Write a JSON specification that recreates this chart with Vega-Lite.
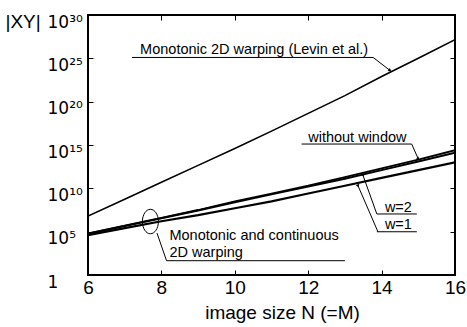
{
  "$schema": "https://vega.github.io/schema/vega-lite/v6.json",
  "width": 367,
  "height": 260,
  "autosize": {"type": "none"},
  "padding": {"left": 88, "top": 15, "right": 12, "bottom": 52},
  "background": "white",
  "config": {
    "font": "Liberation Sans",
    "view": {"stroke": "black", "strokeWidth": 2},
    "axis": {
      "domain": false,
      "grid": false,
      "ticks": true,
      "tickColor": "black",
      "tickSize": -5,
      "tickWidth": 1,
      "labelColor": "black",
      "labelFont": "Liberation Sans",
      "labelFontSize": 19,
      "labelOverlap": false,
      "labelFlush": false,
      "labelBound": false,
      "titleColor": "black",
      "titleFont": "Liberation Sans",
      "titleFontWeight": "normal",
      "titleFontSize": 19
    }
  },
  "datasets": {
    "curves": [
      {"N": 6, "v": 6.31e6, "s": "levin"},
      {"N": 7, "v": 5.62e8, "s": "levin"},
      {"N": 8, "v": 5.01e10, "s": "levin"},
      {"N": 9, "v": 4.47e12, "s": "levin"},
      {"N": 10, "v": 3.98e14, "s": "levin"},
      {"N": 11, "v": 3.98e16, "s": "levin"},
      {"N": 12, "v": 4.47e18, "s": "levin"},
      {"N": 13, "v": 5.01e20, "s": "levin"},
      {"N": 14, "v": 7.94e22, "s": "levin"},
      {"N": 15, "v": 1.0e25, "s": "levin"},
      {"N": 16, "v": 1.41e27, "s": "levin"},
      {"N": 6, "v": 6.31e4, "s": "nowin"},
      {"N": 7, "v": 5.01e5, "s": "nowin"},
      {"N": 8, "v": 3.98e6, "s": "nowin"},
      {"N": 9, "v": 3.16e7, "s": "nowin"},
      {"N": 10, "v": 3.16e8, "s": "nowin"},
      {"N": 11, "v": 2.51e9, "s": "nowin"},
      {"N": 12, "v": 2.0e10, "s": "nowin"},
      {"N": 13, "v": 2.0e11, "s": "nowin"},
      {"N": 14, "v": 2.0e12, "s": "nowin"},
      {"N": 15, "v": 2.0e13, "s": "nowin"},
      {"N": 16, "v": 2.51e14, "s": "nowin"},
      {"N": 6, "v": 5.62e4, "s": "w2"},
      {"N": 7, "v": 4.47e5, "s": "w2"},
      {"N": 8, "v": 3.55e6, "s": "w2"},
      {"N": 9, "v": 2.82e7, "s": "w2"},
      {"N": 10, "v": 2.51e8, "s": "w2"},
      {"N": 11, "v": 2.0e9, "s": "w2"},
      {"N": 12, "v": 1.58e10, "s": "w2"},
      {"N": 13, "v": 1.26e11, "s": "w2"},
      {"N": 14, "v": 1.26e12, "s": "w2"},
      {"N": 15, "v": 1.26e13, "s": "w2"},
      {"N": 16, "v": 1.26e14, "s": "w2"},
      {"N": 6, "v": 3.98e4, "s": "w1"},
      {"N": 7, "v": 2.51e5, "s": "w1"},
      {"N": 8, "v": 1.58e6, "s": "w1"},
      {"N": 9, "v": 7.94e6, "s": "w1"},
      {"N": 10, "v": 5.01e7, "s": "w1"},
      {"N": 11, "v": 3.16e8, "s": "w1"},
      {"N": 12, "v": 2.51e9, "s": "w1"},
      {"N": 13, "v": 2.0e10, "s": "w1"},
      {"N": 14, "v": 1.58e11, "s": "w1"},
      {"N": 15, "v": 1.26e12, "s": "w1"},
      {"N": 16, "v": 1.0e13, "s": "w1"}
    ],
    "segs": [
      {"x": 7.2, "y": 1.26e25, "x2": 13.77, "y2": 1.26e25},
      {"x": 13.77, "y": 1.26e25, "x2": 14.23, "y2": 3.98e23},
      {"x": 11.82, "y": 1.29e15, "x2": 14.82, "y2": 1.29e15},
      {"x": 14.82, "y": 1.29e15, "x2": 15.0, "y2": 2.4e13},
      {"x": 13.87, "y": 1.1e7, "x2": 14.96, "y2": 1.1e7},
      {"x": 13.87, "y": 1.1e7, "x2": 13.49, "y2": 3.39e11},
      {"x": 13.87, "y": 9.77e4, "x2": 14.96, "y2": 9.77e4},
      {"x": 13.9, "y": 9.77e4, "x2": 13.36, "y2": 1.86e10},
      {"x": 8.14, "y": 44.7, "x2": 13.0, "y2": 44.7},
      {"x": 7.88, "y": 6.92e4, "x2": 8.14, "y2": 44.7}
    ],
    "arrows": [
      {"x": 14.23, "y": 3.98e23, "d": "levin"},
      {"x": 15.0, "y": 2.4e13, "d": "nowin"},
      {"x": 13.49, "y": 3.39e11, "d": "w2"},
      {"x": 13.36, "y": 1.86e10, "d": "w1"}
    ],
    "notes": [
      {"x": 7.42, "y": 3.16e25, "t": "Monotonic 2D warping (Levin et al.)"},
      {"x": 12.0, "y": 2.34e15, "t": "without window"},
      {"x": 14.09, "y": 2.0e7, "t": "w=2"},
      {"x": 14.09, "y": 1.86e5, "t": "w=1"},
      {"x": 8.22, "y": 1.1e4, "t": "Monotonic and continuous"},
      {"x": 8.22, "y": 129, "t": "2D warping"}
    ],
    "rings": [
      {"x": 7.7, "y": 1.48e6}
    ]
  },
  "layer": [
    {
      "data": {"name": "curves"},
      "mark": {"type": "line", "color": "black", "clip": true},
      "encoding": {
        "x": {
          "field": "N", "type": "quantitative",
          "scale": {"domain": [6, 16], "nice": false, "zero": false},
          "axis": {
            "orient": "bottom",
            "values": [6, 8, 10, 12, 14, 16],
            "labelPadding": 8,
            "title": "image size N (=M)",
            "titleX": 194,
            "titleY": 43,
            "titleBaseline": "alphabetic"
          }
        },
        "y": {
          "field": "v", "type": "quantitative",
          "scale": {"type": "log", "domain": [1, 1e30], "nice": false},
          "axis": {
            "orient": "left",
            "values": [1, 1e5, 1e10, 1e15, 1e20, 1e25, 1e30],
            "labelFont": "DejaVu Sans",
            "labelFontSize": 17,
            "labelAlign": "left",
            "labelBaseline": "alphabetic",
            "labelOffset": 12,
            "labelPadding": 46,
            "labelExpr": "datum.value < 10 ? '\u20071' : datum.value < 1e6 ? '10⁵' : datum.value < 1e11 ? '10¹⁰' : datum.value < 1e16 ? '10¹⁵' : datum.value < 1e21 ? '10²⁰' : datum.value < 1e26 ? '10²⁵' : '10³⁰'",
            "title": "|XY|",
            "titleAngle": 0,
            "titleAlign": "left",
            "titleBaseline": "alphabetic",
            "titleX": -83,
            "titleY": 12
          }
        },
        "detail": {"field": "s"},
        "strokeWidth": {
          "field": "s", "type": "nominal",
          "scale": {"domain": ["levin", "nowin", "w2", "w1"], "range": [1.6, 2.2, 1.6, 1.3]},
          "legend": null
        }
      }
    },
    {
      "data": {"name": "segs"},
      "mark": {"type": "rule", "color": "black", "strokeWidth": 1},
      "encoding": {
        "x": {
          "field": "x", "type": "quantitative",
          "scale": {"domain": [6, 16], "nice": false, "zero": false},
          "axis": {"orient": "top", "values": [6, 8, 10, 12, 14, 16], "labels": false, "title": null}
        },
        "y": {
          "field": "y", "type": "quantitative",
          "scale": {"type": "log", "domain": [1, 1e30], "nice": false},
          "axis": {"orient": "right", "values": [1, 1e5, 1e10, 1e15, 1e20, 1e25, 1e30], "labels": false, "title": null}
        },
        "x2": {"field": "x2"},
        "y2": {"field": "y2"}
      }
    },
    {
      "data": {"name": "arrows"},
      "mark": {"type": "point", "shape": "triangle-up", "size": 14, "filled": true, "color": "black", "opacity": 1},
      "encoding": {
        "x": {"field": "x", "type": "quantitative", "axis": null},
        "y": {"field": "y", "type": "quantitative", "axis": null},
        "angle": {
          "field": "d", "type": "nominal",
          "scale": {"domain": ["levin", "nowin", "w2", "w1"], "range": [127, 157, 340, 336]},
          "legend": null
        }
      }
    },
    {
      "data": {"name": "notes"},
      "mark": {"type": "text", "align": "left", "baseline": "alphabetic", "fontSize": 14.5, "font": "Liberation Sans", "color": "black"},
      "encoding": {
        "x": {"field": "x", "type": "quantitative", "axis": null},
        "y": {"field": "y", "type": "quantitative", "axis": null},
        "text": {"field": "t"}
      }
    },
    {
      "data": {"name": "rings"},
      "mark": {"type": "point", "shape": "M0,-1.53A1,1.53 0 1,1 0,1.53A1,1.53 0 1,1 0,-1.53Z", "size": 256, "filled": false, "stroke": "black", "strokeWidth": 1, "opacity": 1},
      "encoding": {
        "x": {"field": "x", "type": "quantitative", "axis": null},
        "y": {"field": "y", "type": "quantitative", "axis": null}
      }
    }
  ],
  "resolve": {"axis": {"x": "independent", "y": "independent"}}
}
